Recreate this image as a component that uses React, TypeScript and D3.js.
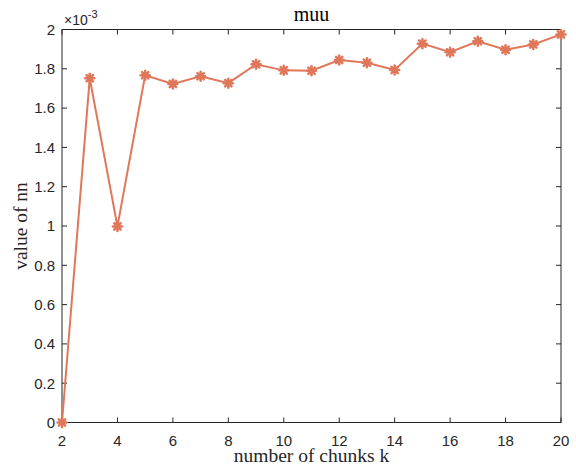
import React from "react";
import * as d3 from "d3";

const kValues = [2, 3, 4, 5, 6, 7, 8, 9, 10, 11, 12, 13, 14, 15, 16, 17, 18, 19, 20];
const nnValues = [
  0, 1.752e-3, 0.998e-3, 1.767e-3, 1.723e-3, 1.762e-3, 1.727e-3, 1.823e-3, 1.792e-3, 1.790e-3,
  1.845e-3, 1.831e-3, 1.794e-3, 1.928e-3, 1.884e-3, 1.940e-3, 1.897e-3, 1.924e-3, 1.975e-3,
];
const xTicks = [2, 4, 6, 8, 10, 12, 14, 16, 18, 20];
const yTicks = [0, 0.2e-3, 0.4e-3, 0.6e-3, 0.8e-3, 1.0e-3, 1.2e-3, 1.4e-3, 1.6e-3, 1.8e-3, 2.0e-3];
const yTickLabels = ["0", "0.2", "0.4", "0.6", "0.8", "1", "1.2", "1.4", "1.6", "1.8", "2"];

const W = 576;
const H = 474;
const L = 62, R = 561, T = 29.5, B = 422.5;
const COLOR = "#E0775A";
const AX = "#262626";
const SANS = "'Liberation Sans', Arial, sans-serif";
const SERIF = "'Liberation Serif', 'Times New Roman', serif";

export default function App() {
  const x = d3.scaleLinear().domain([2, 20]).range([L, R]);
  const y = d3.scaleLinear().domain([0, 2e-3]).range([B, T]);
  const line = d3.line<number>().x((_, i) => x(kValues[i])).y((d) => y(d));
  const pathD = line(nnValues) || "";
  const tl = 5;
  const m = 4.5;
  return (
    <svg width={W} height={H} style={{ position: "absolute", left: 0, top: 0, background: "#fff" }}>
      <rect x={0} y={0} width={W} height={H} fill="#fff" />
      {/* ticks */}
      {xTicks.map((t) => (
        <g key={"xt" + t}>
          <line x1={x(t)} x2={x(t)} y1={B} y2={B - tl} stroke={AX} strokeWidth={1} />
          <line x1={x(t)} x2={x(t)} y1={T} y2={T + tl} stroke={AX} strokeWidth={1} />
          <text x={x(t)} y={446} textAnchor="middle" fontFamily={SANS} fontSize={15} fill={AX}>
            {t}
          </text>
        </g>
      ))}
      {yTicks.map((t, i) => (
        <g key={"yt" + i}>
          <line x1={L} x2={L + tl} y1={y(t)} y2={y(t)} stroke={AX} strokeWidth={1} />
          <line x1={R} x2={R - tl} y1={y(t)} y2={y(t)} stroke={AX} strokeWidth={1} />
          <text x={L - 7} y={y(t) + 5.3} textAnchor="end" fontFamily={SANS} fontSize={15} fill={AX}>
            {yTickLabels[i]}
          </text>
        </g>
      ))}
      <rect x={L} y={T} width={R - L} height={B - T} fill="none" stroke={AX} strokeWidth={1} />
      {/* exponent */}
      <text x={64} y={25} fontFamily={SANS} fontSize={14} fill={AX}>
        ×10
        <tspan dy={-7} fontSize={11}>-3</tspan>
      </text>
      {/* data */}
      <path d={pathD} fill="none" stroke={COLOR} strokeWidth={2} />
      {nnValues.map((v, i) => {
        const cx = x(kValues[i]);
        const cy = y(v);
        const d = m * 0.7071;
        return (
          <g key={"m" + i} stroke={COLOR} strokeWidth={2.5} strokeLinecap="round">
            <line x1={cx - m} x2={cx + m} y1={cy} y2={cy} />
            <line x1={cx} x2={cx} y1={cy - m} y2={cy + m} />
            <line x1={cx - d} x2={cx + d} y1={cy - d} y2={cy + d} />
            <line x1={cx - d} x2={cx + d} y1={cy + d} y2={cy - d} />
            <circle cx={cx} cy={cy} r={3} fill={COLOR} stroke="none" />
          </g>
        );
      })}
      {/* labels */}
      <text x={(L + R) / 2} y={21} textAnchor="middle" fontFamily={SERIF} fontSize={20} fill="#000">
        muu
      </text>
      <text x={(L + R) / 2} y={462} textAnchor="middle" fontFamily={SERIF} fontSize={19.5} fill={AX}>
        number of chunks k
      </text>
      <text
        transform={`translate(27,${(T + B) / 2}) rotate(-90)`}
        textAnchor="middle"
        fontFamily={SERIF}
        fontSize={19.5}
        fill={AX}
      >
        value of nn
      </text>
    </svg>
  );
}
